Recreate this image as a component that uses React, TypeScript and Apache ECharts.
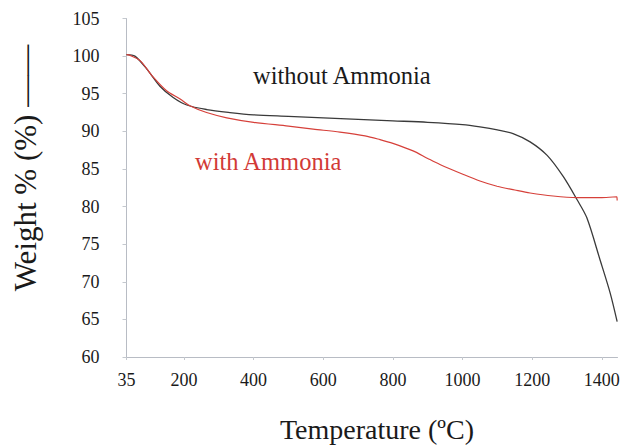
import React, { useEffect, useRef } from "react";
import * as echarts from "echarts";

const xTickValues = [35, 200, 400, 600, 800, 1000, 1200, 1400];
const xMin = 35;
const xMax = 1445;
const yMin = 60;
const yMax = 105;
const yStep = 5;

const withoutAmmonia: [number, number][] = [
  [35, 100.2], [59, 100.0], [93, 98.3], [131, 96.0], [169, 94.5], [208, 93.5],
  [265, 92.9], [332, 92.5], [400, 92.2], [500, 92.0], [600, 91.8], [700, 91.6],
  [800, 91.4], [900, 91.2], [1000, 90.9], [1050, 90.6], [1100, 90.2], [1145, 89.7],
  [1194, 88.6], [1243, 86.8], [1289, 84.0], [1329, 80.9], [1357, 78.5], [1395, 72.9],
  [1424, 68.5], [1444, 64.7],
];

const withAmmonia: [number, number][] = [
  [35, 100.2], [45, 100.1], [74, 99.4], [112, 97.2], [150, 95.4], [189, 94.3],
  [217, 93.4], [265, 92.5], [323, 91.8], [400, 91.2], [500, 90.7], [571, 90.3],
  [648, 89.9], [720, 89.4], [763, 88.9], [800, 88.4], [858, 87.4], [900, 86.4],
  [935, 85.6], [1001, 84.3], [1050, 83.4], [1099, 82.7], [1150, 82.2], [1194, 81.8],
  [1260, 81.4], [1329, 81.2], [1400, 81.2], [1443, 81.3], [1444, 80.8],
];

const SERIF = "Liberation Serif";

export default function App() {
  const ref = useRef<HTMLDivElement>(null);
  useEffect(() => {
    if (!ref.current) return;
    const chart = echarts.init(ref.current, undefined, { renderer: "svg" });
    chart.setOption({
      animation: false,
      backgroundColor: "#ffffff",
      textStyle: { fontFamily: SERIF },
      grid: { left: 126.5, right: 21.5, top: 18.5, bottom: 88, containLabel: false },
      xAxis: {
        type: "value",
        min: xMin,
        max: xMax,
        splitLine: { show: false },
        axisLine: { show: true, lineStyle: { color: "#b8bcc4", width: 1 } },
        axisTick: {
          show: true,
          customValues: xTickValues,
          length: 3,
          lineStyle: { color: "#c4c8ce" },
        },
        axisLabel: {
          customValues: xTickValues,
          margin: 14,
          fontFamily: SERIF,
          fontSize: 18,
          color: "#1a1a1a",
          formatter: (v: number) => String(v),
        },
      },
      yAxis: {
        type: "value",
        min: yMin,
        max: yMax,
        interval: yStep,
        splitLine: { show: false },
        axisLine: { show: true, lineStyle: { color: "#b8bcc4", width: 1 } },
        axisTick: { show: true, length: 4, lineStyle: { color: "#c4c8ce" } },
        axisLabel: {
          margin: 27,
          fontFamily: SERIF,
          fontSize: 18,
          color: "#1a1a1a",
          formatter: (v: number) => String(v),
        },
      },
      series: [
        {
          name: "without Ammonia",
          type: "line",
          data: withoutAmmonia,
          smooth: 0.3,
          showSymbol: false,
          lineStyle: { color: "#3a3a3a", width: 1.3 },
        },
        {
          name: "with Ammonia",
          type: "line",
          data: withAmmonia,
          smooth: 0.3,
          showSymbol: false,
          lineStyle: { color: "#d6403a", width: 1.2 },
        },
      ],
      graphic: [
        {
          type: "text",
          x: 253,
          y: 75,
          style: {
            text: "without Ammonia",
            fontFamily: SERIF,
            fontSize: 24.5,
            fill: "#1a1a1a",
            textAlign: "left",
            textVerticalAlign: "middle",
          },
        },
        {
          type: "text",
          x: 195,
          y: 161,
          style: {
            text: "with Ammonia",
            fontFamily: SERIF,
            fontSize: 24.5,
            fill: "#d23a36",
            textAlign: "left",
            textVerticalAlign: "middle",
          },
        },
        {
          type: "text",
          x: 377,
          y: 429,
          style: {
            text: "Temperature (ºC)",
            fontFamily: SERIF,
            fontSize: 28,
            fill: "#1a1a1a",
            textAlign: "center",
            textVerticalAlign: "middle",
          },
        },
        {
          type: "text",
          x: 25,
          y: 168,
          rotation: Math.PI / 2,
          style: {
            text: "Weight % (%) ——",
            fontFamily: SERIF,
            fontSize: 31,
            fill: "#1a1a1a",
            textAlign: "center",
            textVerticalAlign: "middle",
          },
        },
      ],
    });
    return () => chart.dispose();
  }, []);
  return (
    <div
      ref={ref}
      style={{ position: "fixed", left: 0, top: 0, width: 639, height: 445, background: "#fff" }}
    />
  );
}
